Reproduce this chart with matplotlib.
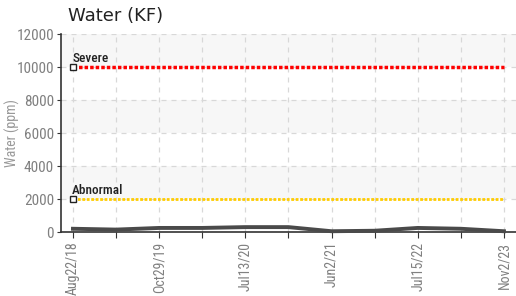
import matplotlib
matplotlib.use("Agg")
import matplotlib.pyplot as plt

dates = ["Aug22/18", "", "Oct29/19", "", "Jul13/20", "", "Jun2/21", "", "Jul15/22", "", "Nov2/23"]
water = [200, 150, 250, 250, 300, 300, 50, 80, 250, 200, 50]
severe = 10000
abnormal = 2000
yticks = [0, 2000, 4000, 6000, 8000, 10000, 12000]

cond = ["Roboto Condensed", "DejaVu Sans"]

fig = plt.figure(figsize=(5.16, 2.96), dpi=100)
ax = fig.add_axes([0.118, 0.216, 0.882, 0.669])
n = len(water)
x = list(range(n))

# alternating bands
for i in range(len(yticks) - 1):
    if i % 2 == 1:
        ax.axhspan(yticks[i], yticks[i + 1], color="#f7f7f7", zorder=0, lw=0)

ax.set_ylim(0, 12000)
ax.set_xlim(-0.28, n - 1 + 0.28)
ax.set_yticks(yticks)
ax.set_xticks(x)
ax.set_xticklabels(dates, rotation=90, fontsize=10, color="#808080", family=cond)
ax.tick_params(axis="y", labelsize=11, labelcolor="#808080", length=3, color="#333333", pad=2)
for t in ax.get_yticklabels():
    t.set_family(cond)
ax.tick_params(axis="x", length=4, color="#333333", pad=3)

ax.grid(True, color="#d8d8d8", linestyle=(0, (4, 4)), lw=0.9, zorder=1)
for s in ["top", "right"]:
    ax.spines[s].set_visible(False)
ax.spines["left"].set_color("#333333")
ax.spines["bottom"].set_color("#333333")
ax.spines["left"].set_linewidth(1.2)
ax.spines["bottom"].set_linewidth(1.2)

ax.plot([0, n - 1], [severe, severe], color="#ff0000", lw=2.5, linestyle=(0, (1, 0.6)), zorder=3)
ax.plot([0, n - 1], [abnormal, abnormal], color="#ffcc00", lw=2.0, linestyle=(0, (1, 0.6)), zorder=3)
ax.plot([0], [severe], marker="s", ms=4, mfc="white", mec="#222222", mew=1, zorder=4)
ax.plot([0], [abnormal], marker="s", ms=4, mfc="white", mec="#222222", mew=1, zorder=4)
ax.text(-0.02, severe + 150, "Severe", fontsize=9.5, family=cond, color="#222222",
        va="bottom", ha="left", fontweight="medium")
ax.text(-0.02, abnormal + 150, "Abnormal", fontsize=9.5, family=cond, color="#222222",
        va="bottom", ha="left", fontweight="medium")

ax.plot(x, water, color="#4a4a4a", lw=2.8, zorder=5, clip_on=False)

ax.set_ylabel("Water (ppm)", fontsize=10, color="#999999", family=cond)
ax.yaxis.set_label_coords(-0.09, 0.5)
fig.text(0.132, 0.945, "Water (KF)", fontsize=13, color="#222222", va="center", ha="left")

fig.savefig("out.png", dpi=100)
